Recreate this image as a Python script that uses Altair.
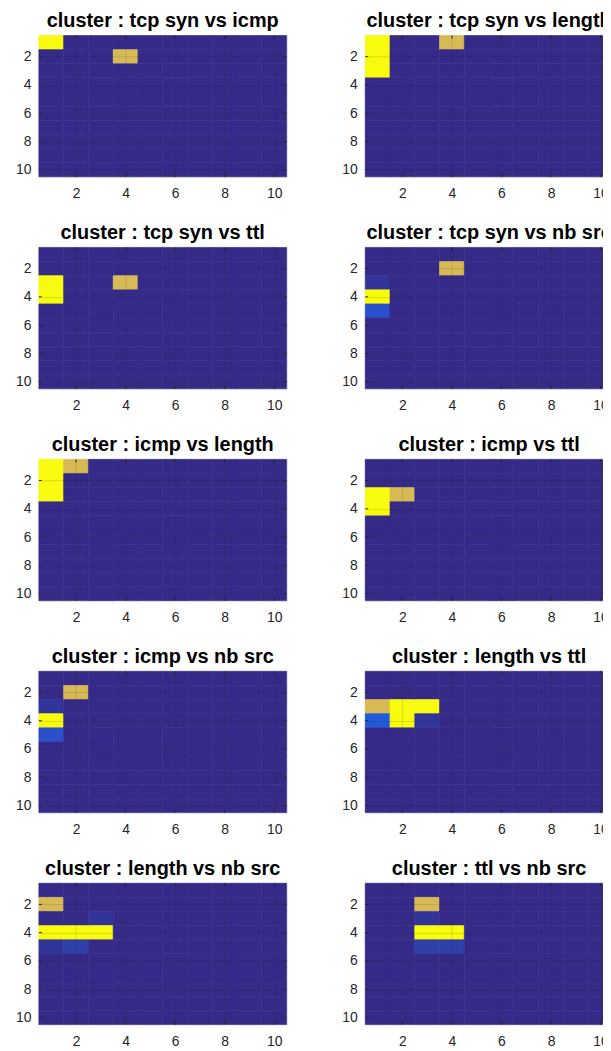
import altair as alt
import pandas as pd

# ---------------- data ----------------
titles = [
    "cluster : tcp syn vs icmp",
    "cluster : tcp syn vs length",
    "cluster : tcp syn vs ttl",
    "cluster : tcp syn vs nb src",
    "cluster : icmp vs length",
    "cluster : icmp vs ttl",
    "cluster : icmp vs nb src",
    "cluster : length vs ttl",
    "cluster : length vs nb src",
    "cluster : ttl vs nb src",
]

grid_size = 10
tick_values = [2, 4, 6, 8, 10]

# non-background cells: panel index, column, row, level
cell_panel = [0, 0,
              1, 1, 1, 1,
              2, 2, 2,
              3, 3, 3, 3,
              4, 4, 4, 4,
              5, 5, 5,
              6, 6, 6, 6,
              7, 7, 7, 7, 7, 7,
              8, 8, 8, 8, 8, 8, 8,
              9, 9, 9, 9, 9, 9]
cell_x = [1, 4,
          1, 1, 1, 4,
          1, 1, 4,
          4, 1, 1, 1,
          1, 1, 1, 2,
          1, 1, 2,
          2, 1, 1, 1,
          1, 2, 3, 1, 2, 3,
          1, 3, 1, 2, 3, 1, 2,
          3, 3, 3, 4, 3, 4]
cell_y = [1, 2,
          1, 2, 3, 1,
          3, 4, 3,
          2, 3, 4, 5,
          1, 2, 3, 1,
          3, 4, 3,
          2, 3, 4, 5,
          3, 3, 3, 4, 4, 4,
          2, 3, 4, 4, 4, 5, 5,
          2, 3, 4, 4, 5, 5]
cell_level = ["yellow", "tan",
              "yellow", "yellow", "yellow", "tan",
              "yellow", "yellow", "tan",
              "tan", "faint", "yellow", "blue",
              "yellow", "yellow", "yellow", "tan",
              "yellow", "yellow", "tan",
              "tan", "faint", "yellow", "blue",
              "tan", "yellow", "yellow", "blue2", "yellow", "faint",
              "tan", "faint", "yellow", "yellow", "yellow", "faint", "faint2",
              "tan", "faint", "yellow", "yellow", "faint2", "faint2"]

level_names = ["bg", "faint", "faint2", "blue", "blue2", "yellow", "tan"]
level_colors = ["#352a87", "#31359a", "#2e3fa9", "#2a50cc", "#1f5ad9", "#f9fb0e", "#d8ba55"]

# ---------------- build table ----------------
overrides = {}
for p, xx, yy, lv in zip(cell_panel, cell_x, cell_y, cell_level):
    overrides[(p, xx, yy)] = lv

rows = []
for p, t in enumerate(titles):
    for xx in range(1, grid_size + 1):
        for yy in range(1, grid_size + 1):
            rows.append({"panel": t, "x": xx, "y": yy,
                         "level": overrides.get((p, xx, yy), "bg")})
df = pd.DataFrame(rows)
ticks_df = pd.DataFrame({"x0": tick_values, "y0": tick_values})

W, H = 249, 142
EDGE = "#262626"

common_axis = dict(values=tick_values, grid=True, ticks=False, domain=False,
                   zindex=1, labelFontSize=14, labelFont="Liberation Sans",
                   labelColor=EDGE, gridColor=EDGE, gridOpacity=0.15,
                   title=None)
xaxis = alt.Axis(labelPadding=10, minExtent=24, maxExtent=24, **common_axis)
yaxis = alt.Axis(labelPadding=8, minExtent=30, maxExtent=30, **common_axis)
cscale = alt.Scale(domain=level_names, range=level_colors)
xscale = alt.Scale(domain=[0.5, grid_size + 0.5], nice=False, zero=False)
yscale = alt.Scale(domain=[0.5, grid_size + 0.5], nice=False, zero=False, reverse=True)


def panel(title):
    base = alt.Chart(df[df.panel == title]).transform_calculate(
        x0="datum.x - 0.5", x1="datum.x + 0.5",
        y0="datum.y - 0.5", y1="datum.y + 0.5",
    )
    rect = base.mark_rect(strokeWidth=0.6).encode(
        x=alt.X("x0:Q", scale=xscale, axis=xaxis),
        x2="x1:Q",
        y=alt.Y("y0:Q", scale=yscale, axis=yaxis),
        y2="y1:Q",
        color=alt.Color("level:N", legend=None, scale=cscale),
        stroke=alt.Stroke("level:N", legend=None, scale=cscale),
    )
    tk = alt.Chart(ticks_df)
    lt = tk.mark_rule(color=EDGE, strokeWidth=1).encode(
        y=alt.Y("y0:Q", scale=yscale, axis=yaxis), x=alt.value(0), x2=alt.value(3))
    rt = tk.mark_rule(color=EDGE, strokeWidth=1).encode(
        y=alt.Y("y0:Q", scale=yscale, axis=yaxis), x=alt.value(W - 3), x2=alt.value(W))
    bt = tk.mark_rule(color=EDGE, strokeWidth=1).encode(
        x=alt.X("x0:Q", scale=xscale, axis=xaxis), y=alt.value(H - 3), y2=alt.value(H))
    tt = tk.mark_rule(color=EDGE, strokeWidth=1).encode(
        x=alt.X("x0:Q", scale=xscale, axis=xaxis), y=alt.value(0), y2=alt.value(3))
    return alt.layer(rect, lt, rt, bt, tt).properties(
        width=W, height=H,
        title=alt.TitleParams(title, fontSize=20, fontWeight="bold",
                              color="#000000", offset=4, anchor="middle",
                              font="Liberation Sans"),
    )


rows_charts = []
for r in range(5):
    rows_charts.append(alt.hconcat(panel(titles[2 * r]), panel(titles[2 * r + 1]),
                                   spacing=47))

# the right-hand column runs past the page edge, as in the original picture
chart = alt.vconcat(*rows_charts, spacing=21).properties(
    padding={"left": 0, "top": 0, "right": -11, "bottom": -3}
).configure_view(
    stroke=EDGE, strokeWidth=1, fill="#352a87"
).configure(background="#ffffff")

chart.save("out.html", embed_options={"renderer": "svg", "actions": False})
